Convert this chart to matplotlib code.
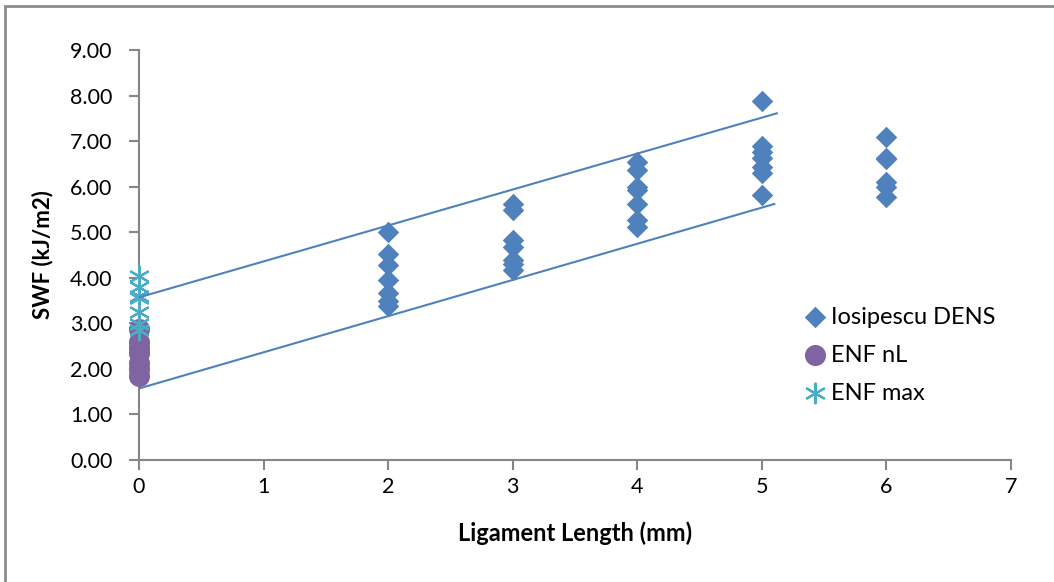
import matplotlib.pyplot as plt
from matplotlib.patches import Rectangle

plt.rcParams['font.family'] = ['Lato', 'DejaVu Sans']

# Iosipescu DENS points: ligament length (mm) and SWF (kJ/m2)
dens_x = [2, 2, 2, 2, 2, 2, 2,
          3, 3, 3, 3, 3, 3, 3,
          4, 4, 4, 4, 4, 4, 4,
          5, 5, 5, 5, 5, 5, 5,
          6, 6, 6, 6, 6, 6]
dens_y = [5.00, 4.52, 4.27, 3.95, 3.66, 3.48, 3.38,
          5.63, 5.49, 4.83, 4.68, 4.39, 4.30, 4.17,
          6.55, 6.37, 6.00, 5.93, 5.63, 5.27, 5.12,
          7.89, 6.90, 6.76, 6.64, 6.44, 6.29, 5.82,
          7.08, 6.63, 6.60, 6.10, 6.00, 5.78]

# ENF points at zero ligament length
enf_nl_x = [0, 0, 0, 0, 0, 0, 0]
enf_nl_y = [2.88, 2.60, 2.45, 2.35, 2.12, 2.00, 1.84]
enf_max_x = [0, 0, 0, 0, 0, 0, 0]
enf_max_y = [4.04, 3.80, 3.60, 3.55, 3.24, 2.98, 2.86]

# bounding lines (start, end)
upper_x = [0, 5.12]
upper_y = [3.57, 7.61]
lower_x = [0, 5.10]
lower_y = [1.57, 5.62]

fig = plt.figure(figsize=(10.54, 5.82), dpi=100)
ax = fig.add_axes([139 / 1054, 1 - 460 / 582, 872 / 1054, 410 / 582])

fig.patches.append(Rectangle((5 / 1054, -0.1), 1.2, 1 - 5 / 582 + 0.1 - 1 / 582,
                             transform=fig.transFigure, fill=False,
                             edgecolor='#8c8c8c', linewidth=2))

ax.scatter(dens_x, dens_y, marker='D', s=120, color='#4F81BD', zorder=3,
           clip_on=False, label='Iosipescu DENS', linewidths=0)
ax.scatter(enf_nl_x, enf_nl_y, marker='o', s=230, color='#8064A2', zorder=4,
           clip_on=False, label='ENF nL', linewidths=0)
ax.scatter(enf_max_x, enf_max_y, marker=(6, 2, 0), s=200, color='#4BACC6',
           zorder=5, clip_on=False, label='ENF max', linewidths=1.6)

ax.plot(upper_x, upper_y, color='#4F81BD', linewidth=1.5, zorder=6)
ax.plot(lower_x, lower_y, color='#4F81BD', linewidth=1.5, zorder=6)

ax.set_xlim(0, 7)
ax.set_ylim(0, 9)
ax.set_xticks(range(0, 8))
ax.set_yticks(range(0, 10))
ax.set_yticklabels([f'{v:.2f}' for v in range(0, 10)])

for side in ['top', 'right']:
    ax.spines[side].set_visible(False)
for side in ['left', 'bottom']:
    ax.spines[side].set_color('#868686')
    ax.spines[side].set_linewidth(1.5)
ax.tick_params(direction='out', length=7, width=1.5, color='#868686',
               labelsize=15.5)
ax.tick_params(axis='y', pad=12)
ax.tick_params(axis='x', pad=5)

ax.set_xlabel('Ligament Length (mm)', fontsize=17, fontweight='bold', labelpad=18)
ax.set_ylabel('SWF (kJ/m2)', fontsize=16, fontweight='bold', labelpad=12)

ax.legend(loc='center left', bbox_to_anchor=(801 / 1054, 1 - 355 / 582),
          bbox_transform=fig.transFigure, frameon=False, fontsize=17,
          handletextpad=0.05, labelspacing=0.72, handlelength=1.2,
          borderaxespad=0, borderpad=0)

fig.savefig('out.png', dpi=100)
